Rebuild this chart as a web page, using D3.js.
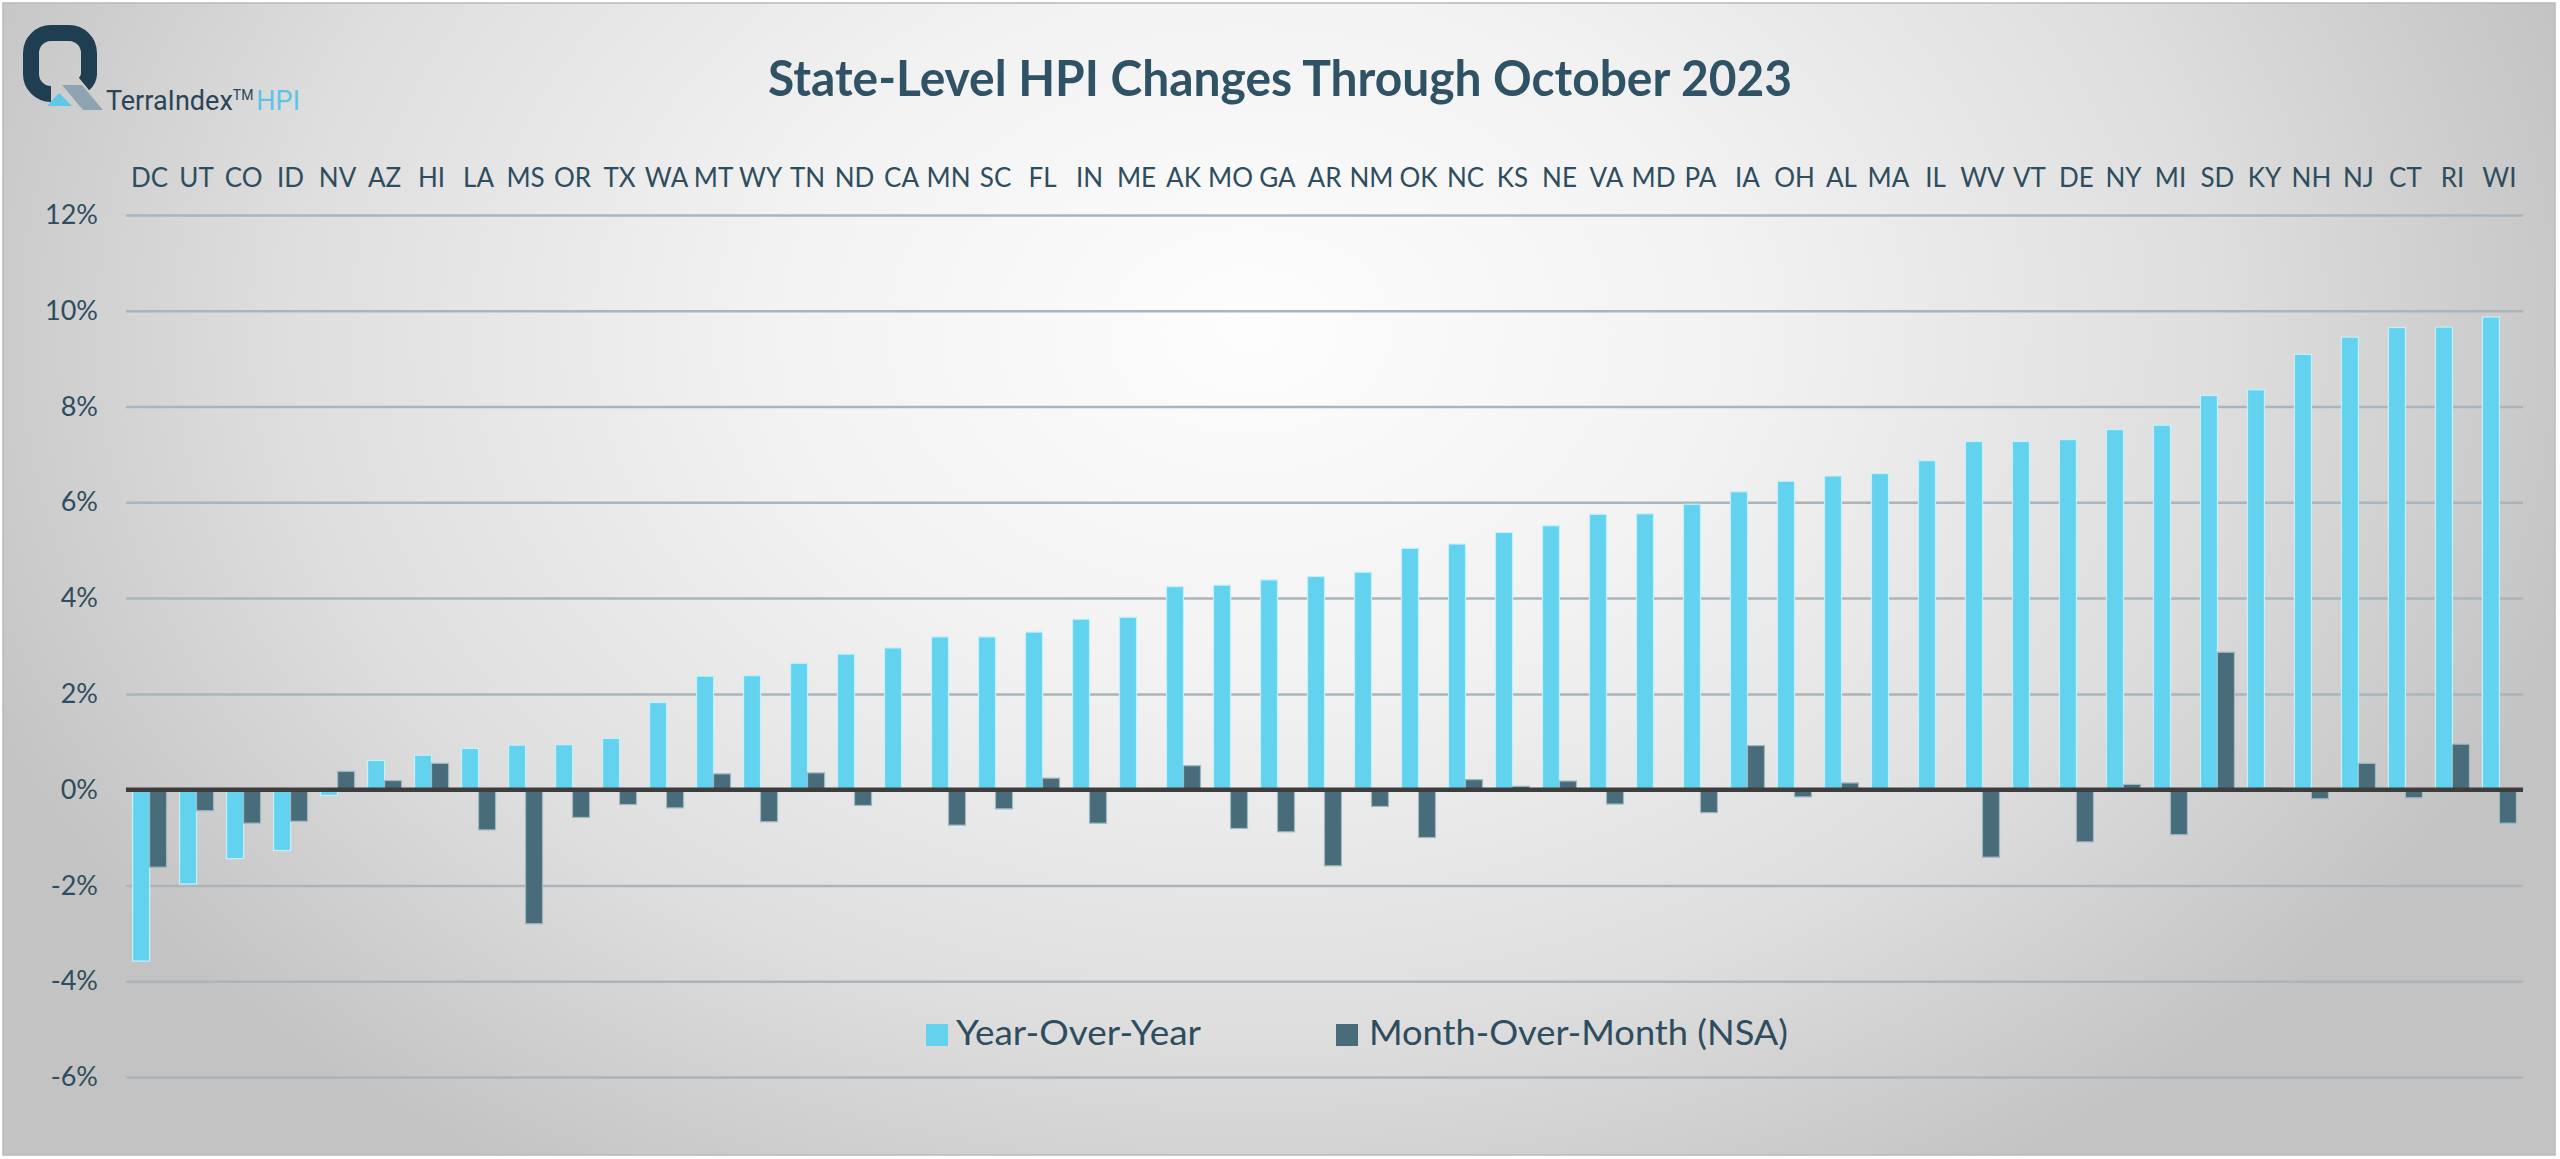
<!DOCTYPE html>
<html><head><meta charset="utf-8">
<script src="https://cdn.jsdelivr.net/npm/d3@7"></script>
<style>html,body{margin:0;padding:0;background:#fff;overflow:hidden}</style>
</head><body>
<svg id="c" width="2560" height="1159"></svg>
<script>
const states = ["DC","UT","CO","ID","NV","AZ","HI","LA","MS","OR","TX","WA","MT","WY","TN","ND","CA","MN","SC","FL","IN","ME","AK","MO","GA","AR","NM","OK","NC","KS","NE","VA","MD","PA","IA","OH","AL","MA","IL","WV","VT","DE","NY","MI","SD","KY","NH","NJ","CT","RI","WI"];
const yoy = [-3.58,-1.97,-1.44,-1.27,-0.12,0.61,0.72,0.86,0.93,0.94,1.07,1.82,2.37,2.38,2.64,2.83,2.96,3.19,3.19,3.29,3.56,3.60,4.24,4.27,4.38,4.45,4.54,5.04,5.13,5.37,5.51,5.75,5.76,5.96,6.22,6.44,6.55,6.60,6.87,7.27,7.27,7.31,7.52,7.61,8.23,8.35,9.09,9.45,9.65,9.66,9.87];
const mom = [-1.62,-0.44,-0.70,-0.66,0.38,0.19,0.55,-0.84,-2.80,-0.58,-0.31,-0.38,0.33,-0.67,0.35,-0.33,0.0,-0.74,-0.40,0.24,-0.70,0.0,0.50,-0.81,-0.88,-1.59,-0.35,-1.00,0.21,0.07,0.18,-0.30,0.0,-0.48,0.92,-0.15,0.14,0.0,0.0,-1.41,0.0,-1.09,0.11,-0.94,2.87,0.04,-0.19,0.55,-0.17,0.95,-0.70];
const yTicks = [-6,-4,-2,0,2,4,6,8,10,12];
const seriesKeys = ["yoy","mom"];
const seriesNames = ["Year-Over-Year","Month-Over-Month (NSA)"];
const titleText = "State-Level HPI Changes Through October 2023";

const colors = {yoy:"#63d2ee", mom:"#486c7a"};
const strokes = {yoy:"#c4f0fb", mom:"#9fb7c0"};
const textCol = "#2e4d5e";

const svg = d3.select("#c");
const defs = svg.append("defs");
const rg = defs.append("radialGradient").attr("id","bg")
  .attr("gradientUnits","userSpaceOnUse")
  .attr("cx",1250).attr("cy",330).attr("r",1000)
  .attr("gradientTransform","translate(1250,330) scale(1.38,1) translate(-1250,-330)");
[[0,"#fdfdfd"],[0.35,"#f2f2f2"],[0.7,"#dedede"],[1,"#c3c3c3"]].forEach(s=>
  rg.append("stop").attr("offset",s[0]).attr("stop-color",s[1]));

svg.append("rect").attr("x",3).attr("y",3).attr("width",2552).attr("height",1152)
  .attr("fill","url(#bg)").attr("stroke","#b9b9b9").attr("stroke-width",1.5);

const L = 126, R = 2523, T = 215, B = 1077;
const y = d3.scaleLinear().domain([-6,12]).range([B,T]);
const x0 = d3.scaleBand().domain(states).range([L,R]).paddingInner(0.277).paddingOuter(0.14);
const x1 = d3.scaleBand().domain(seriesKeys).range([0,x0.bandwidth()]);

// gridlines + y labels
const yAxis = svg.append("g").attr("transform",`translate(${L},0)`)
  .call(d3.axisLeft(y).tickValues(yTicks).tickSize(-(R-L)).tickPadding(28).tickFormat(d=>d+"%"));
yAxis.select(".domain").remove();
yAxis.selectAll(".tick line").attr("stroke","#aab4ba").attr("stroke-width",2.5);
yAxis.selectAll(".tick text").attr("fill",textCol).style("font-family","Lato, 'Open Sans', sans-serif")
  .style("font-size","27px");

// category labels on top
const xAxis = svg.append("g").attr("transform","translate(0,187)")
  .call(d3.axisTop(x0).tickSize(0).tickPadding(0));
xAxis.select(".domain").remove();
xAxis.selectAll(".tick text").attr("fill",textCol).style("font-family","Lato, 'Open Sans', sans-serif")
  .style("font-size","26px");

// bars
const rows = states.map((s,i)=>({s, yoy:yoy[i], mom:mom[i]}));
const g = svg.append("g");
const grp = g.selectAll("g").data(rows).join("g").attr("transform",d=>`translate(${x0(d.s)},0)`);
grp.selectAll("rect").data(d=>seriesKeys.map(k=>({k, v:d[k]})).filter(e=>e.v!==0)).join("rect")
  .attr("x",e=>x1(e.k)).attr("width",x1.bandwidth())
  .attr("y",e=>y(Math.max(0,e.v))).attr("height",e=>Math.abs(y(e.v)-y(0)))
  .attr("fill",e=>colors[e.k]).attr("stroke",e=>strokes[e.k]).attr("stroke-width",1.2);

// zero line
svg.append("line").attr("x1",L).attr("x2",R).attr("y1",y(0)).attr("y2",y(0))
  .attr("stroke","#3d3d3d").attr("stroke-width",4.5);

// title
svg.append("text").attr("x",1280).attr("y",96).attr("text-anchor","middle")
  .attr("textLength",1024).attr("lengthAdjust","spacingAndGlyphs")
  .style("font-family","Lato, 'Open Sans', sans-serif").style("font-weight","bold")
  .style("font-size","50px").attr("fill","#2f5264").text(titleText);

// legend
const legX = [926, 1336], legTxtX = [956, 1369], legW = [245, 419];
seriesKeys.forEach((k,i)=>{
  svg.append("rect").attr("x",legX[i]).attr("y",1024).attr("width",22).attr("height",22)
    .attr("fill",colors[k]);
  svg.append("text").attr("x",legTxtX[i]).attr("y",1045)
    .attr("textLength",legW[i]).attr("lengthAdjust","spacingAndGlyphs")
    .style("font-family","Lato, 'Open Sans', sans-serif").style("font-size","35px")
    .attr("fill",textCol).text(seriesNames[i]);
});

// logo
const lg = svg.append("g");
lg.append("path").attr("d","M51,94 A20,20 0 0 1 31,74 V53 A20,20 0 0 1 51,33 H69 A20,20 0 0 1 89,53 V74 A14,14 0 0 1 84,84")
  .attr("fill","none").attr("stroke","#1f3e51").attr("stroke-width",16);
lg.append("path").attr("d","M62,85 L82,85 L103,110 L83,110 Z").attr("fill","#8ea4b2");
lg.append("path").attr("d","M59,93 L72,106 L47,106 Z").attr("fill","#5fc7ea");
const lt = lg.append("text").attr("x",106).attr("y",110)
  .style("font-family","Roboto, 'Open Sans', sans-serif").style("font-size","27px");
lt.append("tspan").attr("fill","#2a4557").text("TerraIndex");
lt.append("tspan").attr("fill","#2a4557").attr("dy",-10).style("font-size","14px").text("TM");
lt.append("tspan").attr("fill","#5fc3e6").attr("dy",10).attr("dx",3).text("HPI");
</script>
</body></html>
